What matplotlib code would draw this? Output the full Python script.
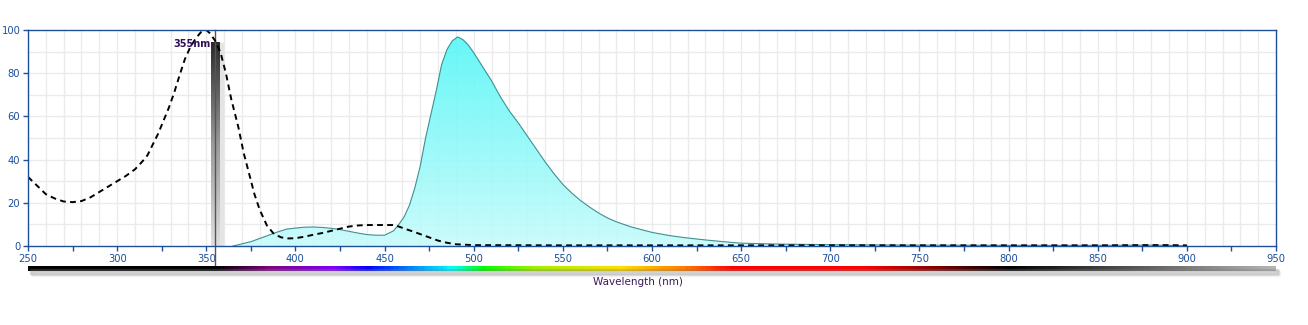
import numpy as np
import matplotlib.pyplot as plt
from matplotlib.colors import LinearSegmentedColormap
from matplotlib.patches import Rectangle

# 激发光谱 (虚线)
ex_wl = [250, 255, 260, 265, 270, 275, 280, 285, 290, 295, 300, 305, 310, 314, 317, 320, 323, 326,
         329, 332, 335, 338, 341, 344, 347, 350, 352, 355, 358, 361, 364, 368, 371, 374.5, 377, 380,
         384, 388, 392, 396, 400, 405, 410, 415, 420, 425, 430, 435, 440, 450, 455, 458, 462, 466,
         470, 475, 480, 485, 490, 500, 550, 600, 650, 700, 750, 800, 850, 880, 890, 900]
ex_val = [32, 28, 24, 22, 20.6, 20.3, 20.8, 22.5, 25, 27.5, 30, 32.5, 35.5, 39, 42, 47, 52, 58,
          64, 71, 79, 86.5, 92, 96, 99, 100, 98.5, 95, 89.5, 80, 68, 55, 43, 32, 24, 16.7,
          9.5, 5.5, 4, 3.5, 3.6, 4.3, 5.2, 6, 7, 8, 9, 9.5, 9.7, 9.7, 9.7, 9, 7.8, 6.7,
          5.5, 4, 2.5, 1.5, 0.8, 0.4, 0.3, 0.3, 0.3, 0.3, 0.3, 0.3, 0.3, 0.4, 0.4, 0.3]

# 发射光谱 (填充)
em_wl = [365, 370, 375, 380, 385, 390, 395, 400, 405, 410, 415, 420, 425, 430, 435, 440, 445, 450,
         455, 458, 461, 464, 467, 470, 473, 476, 479, 482, 485, 488, 491, 494, 497, 500, 505, 510,
         515, 520, 525, 530, 535, 540, 545, 550, 555, 560, 565, 570, 575, 580, 588, 600, 610, 620,
         630, 640, 650, 670, 700, 750, 800, 850, 880, 890, 900]
em_val = [0, 1, 2, 3.5, 5, 6.5, 7.8, 8.3, 8.7, 8.8, 8.6, 8.2, 7.6, 6.8, 6, 5.3, 5, 5,
          7, 10, 13.5, 19, 27, 37, 50, 61, 72, 84, 91, 95, 96.8, 95.5, 93, 89.5, 83, 76.5,
          69, 62.5, 57, 51, 45, 39, 33.5, 28.5, 24.5, 21, 18, 15.3, 13, 11.2, 8.9, 6.3, 4.8, 3.7,
          2.8, 2, 1.3, 0.9, 0.6, 0.4, 0.3, 0.3, 0.4, 0.3, 0]

marker_wl = 355
marker_val = 94
x_ticks = list(range(250, 951, 25))
x_labels = [str(t) if t % 50 == 0 else '' for t in x_ticks]
y_ticks = [0, 20, 40, 60, 80, 100]

# 光谱色条
spec_stops = [(250, '#000000'), (355, '#000000'), (384, '#800080'), (421, '#8000ff'),
              (440, '#0000ff'), (487, '#00ffff'), (505, '#00ff00'), (533, '#a0f000'),
              (582, '#ffe000'), (617, '#ff8000'), (645, '#ff0000'), (720, '#ff0000'),
              (739, '#c00000'), (801, '#000000'), (950, '#b4b4b4')]

blue = '#1d4f9c'
W, H = 1308, 325
fig = plt.figure(figsize=(W / 100, H / 100), dpi=100)
ax = fig.add_axes([28 / W, 79 / H, 1248 / W, 216 / H])
ax.set_xlim(250, 950)
ax.set_ylim(0, 100)

# 网格
for gx in range(260, 950, 10):
    ax.axvline(gx, color='#ebebeb', lw=1, zorder=0)
for gy in range(10, 100, 10):
    ax.axhline(gy, color='#ebebeb', lw=1, zorder=0)

# 渐变填充
fill = ax.fill_between(em_wl, em_val, 0, facecolor='none', edgecolor='none')
cmap_fill = LinearSegmentedColormap.from_list('f', ['#c6fbfb', '#4ef7f7'])
grad = np.linspace(0, 1, 256).reshape(-1, 1)
im = ax.imshow(grad, extent=[250, 950, 0, 100], origin='lower', aspect='auto',
               cmap=cmap_fill, alpha=0.88, zorder=1)
im.set_clip_path(fill.get_paths()[0], transform=ax.transData)
ax.plot(em_wl, em_val, color='#3f9090', lw=0.8, zorder=2)

# 激发波长标记
ax.add_patch(Rectangle((marker_wl + 2.4, 0), 2.2, marker_val, color='#e4e4e4', zorder=2))
cmap_bar = LinearSegmentedColormap.from_list('b', ['#e0e0e0', '#9a9a9a', '#2a2a2a'])
ax.imshow(grad, extent=[marker_wl - 2.4, marker_wl + 2.4, 0, marker_val], origin='lower',
          aspect='auto', cmap=cmap_bar, zorder=3)
ax.plot([marker_wl, marker_wl], [-8.8, 100], color='#555555', lw=1, zorder=4, clip_on=False)
ax.text(marker_wl - 2.6, 93.5, '355nm', ha='right', va='center', fontsize=7,
        fontweight='bold', color='#33105a', zorder=5)

ax.plot(ex_wl, ex_val, color='black', lw=1.4, ls='--', dashes=(3, 2.2), zorder=4)

ax.set_xlim(250, 950)
ax.set_ylim(0, 100)
ax.set_xticks(x_ticks)
ax.set_xticklabels(x_labels)
ax.set_yticks(y_ticks)
ax.tick_params(axis='both', colors=blue, labelcolor=blue, labelsize=7.2, length=3.5, width=1, pad=2)
for s in ax.spines.values():
    s.set_color(blue)
    s.set_linewidth(1)
    s.set_zorder(6)

# 色条
pos = [np.interp(w, [250, 950], [0, 1]) for w, _ in spec_stops]
cmap_spec = LinearSegmentedColormap.from_list('s', list(zip(pos, [c for _, c in spec_stops])))
for i, a in enumerate([0.2, 0.12, 0.06]):
    fig.patches.append(Rectangle(((30 + i) / W, (325 - 274 - i) / H), 1248 / W, 5 / H,
                                 transform=fig.transFigure, color='#808080', alpha=a, zorder=0))
cax = fig.add_axes([28 / W, (325 - 271) / H, 1248 / W, 5 / H])
cax.imshow(np.linspace(0, 1, 700).reshape(1, -1), aspect='auto', cmap=cmap_spec,
           extent=[250, 950, 0, 1])
cax.axis('off')

fig.text(638 / W, 1 - 282 / H, 'Wavelength (nm)', ha='center', va='center',
         fontsize=7.5, color='#3c1a5c')

fig.savefig('out.png', dpi=100)
